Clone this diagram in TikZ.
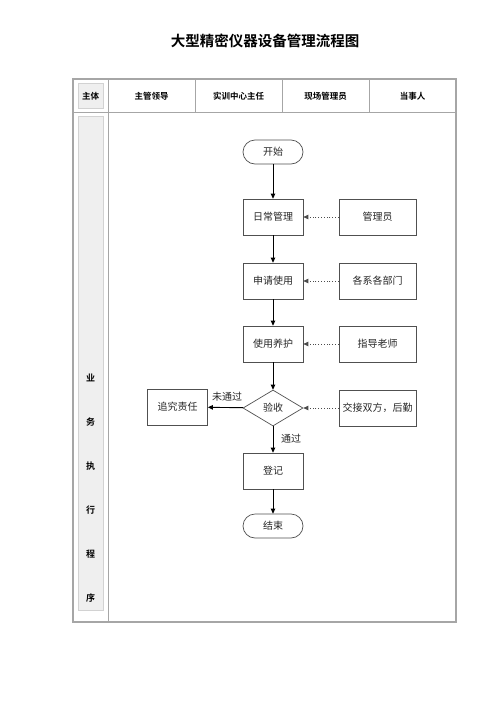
\documentclass[tikz,border=0pt]{standalone}
\usepackage{fontspec}
\setmainfont{Noto Sans CJK SC}
\newfontfamily\cjkb{Noto Sans CJK SC Bold}
\usetikzlibrary{shapes.geometric,arrows.meta}
\definecolor{frame}{HTML}{A6A6A6}
\definecolor{cellfill}{HTML}{EFEFEF}
\definecolor{cellline}{HTML}{D2D2D2}
\definecolor{boxline}{HTML}{505050}
\tikzset{
  procbox/.style={draw=boxline, line width=0.7pt, minimum width=60pt, minimum height=36pt, inner sep=1pt, font=\fontsize{10}{12}\selectfont, text=black!85},
  rolebox/.style={procbox, minimum width=77pt},
  termbox/.style={draw=boxline, line width=0.7pt, rounded corners=12pt, minimum width=60pt, minimum height=24pt, inner sep=1pt, font=\fontsize{10}{12}\selectfont, text=black!85},
  decbox/.style={draw=boxline, line width=0.7pt, diamond, aspect=1.667, minimum width=60pt, minimum height=36pt, inner sep=0pt, font=\fontsize{10}{12}\selectfont, text=black!85},
  flowarrow/.style={draw=black, line width=0.9pt, -{Triangle[length=5pt,width=4.5pt]}},
  dotarrow/.style={draw=black!70, line width=0.8pt, dotted, -{Triangle[length=5pt,width=4.5pt]}},
  headtext/.style={font=\cjkb\fontsize{8.5}{10}\selectfont},
  sidetext/.style={font=\cjkb\fontsize{9}{10}\selectfont},
  lbl/.style={font=\fontsize{10}{12}\selectfont, text=black!85, inner sep=0pt},
}
\begin{document}
\begin{tikzpicture}[x=1pt,y=-1pt]
\useasboundingbox (0,0) rectangle (500,707);
% title
\node[font=\cjkb\fontsize{14.5}{16}\selectfont] (title) at (265,41) {大型精密仪器设备管理流程图};
% table frame
\draw[frame, line width=1.2pt] (73,79) rectangle (456,622);
\draw[frame, line width=1pt] (73,112) -- (456,112);
\draw[frame, line width=1pt] (108,79) -- (108,622);
\draw[frame, line width=0.8pt] (195,79) -- (195,112);
\draw[frame, line width=0.8pt] (282,79) -- (282,112);
\draw[frame, line width=0.8pt] (369,79) -- (369,112);
% gray cells
\draw[cellline, fill=cellfill, line width=0.6pt] (78,83) rectangle (103,108);
\draw[cellline, fill=cellfill, line width=0.6pt] (78,116) rectangle (103,610);
% header texts
\node[headtext] (hz) at (90.5,96) {主体};
\node[headtext] (h1) at (151.5,96) {主管领导};
\node[headtext] (h2) at (238.5,96) {实训中心主任};
\node[headtext] (h3) at (325.5,96) {现场管理员};
\node[headtext] (h4) at (412.5,96) {当事人};
% side texts
\node[sidetext] (s1) at (90.5,378) {业};
\node[sidetext] (s2) at (90.5,422) {务};
\node[sidetext] (s3) at (90.5,466) {执};
\node[sidetext] (s4) at (90.5,510) {行};
\node[sidetext] (s5) at (90.5,554) {程};
\node[sidetext] (s6) at (90.5,598) {序};
% flow nodes
\node[termbox] (start) at (273,152) {开始};
\node[procbox] (n1) at (273,217) {日常管理};
\node[procbox] (n2) at (273,281) {申请使用};
\node[procbox] (n3) at (273,344) {使用养护};
\node[decbox] (d) at (273,408) {验收};
\node[procbox] (n5) at (273,471) {登记};
\node[termbox] (end) at (273,526) {结束};
\node[procbox] (f) at (177.5,407) {追究责任};
\node[rolebox] (r1) at (377.5,217) {管理员};
\node[rolebox] (r2) at (377.5,281) {各系各部门};
\node[rolebox] (r3) at (377.5,344) {指导老师};
\node[rolebox] (r4) at (377.5,408) {交接双方，后勤};
% connectors
\draw[flowarrow] (start) -- (n1);
\draw[flowarrow] (n1) -- (n2);
\draw[flowarrow] (n2) -- (n3);
\draw[flowarrow] (n3) -- (d);
\draw[flowarrow] (d) -- (n5);
\draw[flowarrow] (n5) -- (end);
\draw[flowarrow] (d) -- (f);
\draw[dotarrow] (r1) -- (n1);
\draw[dotarrow] (r2) -- (n2);
\draw[dotarrow] (r3) -- (n3);
\draw[dotarrow] (r4) -- (d);
% labels
\node[lbl] (l1) at (227,397) {未通过};
\node[lbl] (l2) at (291,439) {通过};
\end{tikzpicture}
\end{document}
